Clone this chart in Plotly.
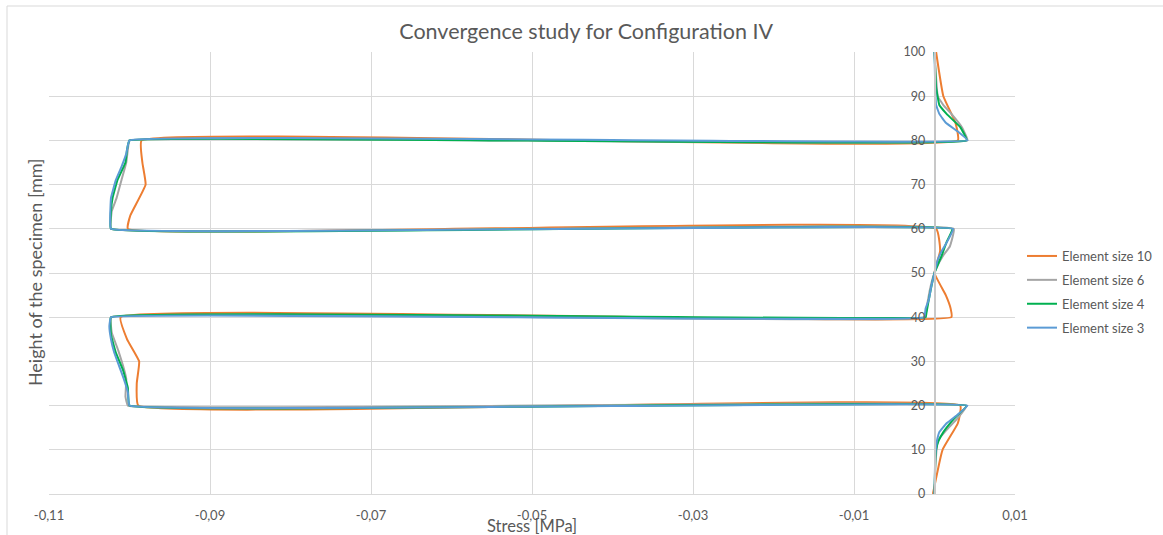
import plotly.graph_objects as go

# ---- data (height [mm] vs stress [MPa]) ----
h_es10 = [0, 10, 16, 20,
          20, 25, 30, 35, 40,
          40, 42, 45, 50, 55, 60,
          60, 63, 70, 75, 80,
          80, 84, 90, 100]
s_es10 = [-0.0002, 0.0010, 0.0029, 0.0032,
          -0.0989, -0.0991, -0.0988, -0.1003, -0.1011,
          0.0021, 0.0020, 0.0014, 0.0000, 0.0007, 0.0002,
          -0.1002, -0.0999, -0.0980, -0.0984, -0.0985,
          0.0029, 0.0026, 0.0011, 0.0002]

h_es6 = [0, 6, 12, 14.5, 17, 20,
         20, 22, 26, 29, 32.5, 36.5, 40,
         40, 43, 46, 49, 51, 54, 56, 60,
         60, 64, 67, 71, 75, 78, 80,
         80, 83, 86, 88, 90, 100]
s_es6 = [0.0000, 0.0001, 0.0004, 0.0015, 0.0028, 0.0040,
         -0.1002, -0.1005, -0.1004, -0.1008, -0.1014, -0.1022, -0.1023,
         -0.0012, -0.0009, -0.0006, -0.0002, 0.0002, 0.0011, 0.0019, 0.0024,
         -0.1023, -0.1022, -0.1016, -0.1010, -0.1004, -0.1002, -0.1000,
         0.0041, 0.0034, 0.0021, 0.0011, 0.0004, 0.0000]

h_es4 = [0, 8, 10, 12, 14, 17, 20,
         20, 24, 28, 32, 36, 40,
         40, 41, 45, 50, 54, 57, 60,
         60, 64, 67, 71, 75, 78, 80,
         80, 83, 86, 88, 92, 100]
s_es4 = [0.0000, 0.0001, 0.0002, 0.0005, 0.0011, 0.0024, 0.0040,
         -0.1000, -0.1002, -0.1008, -0.1017, -0.1023, -0.1023,
         -0.0011, -0.0010, -0.0006, 0.0000, 0.0009, 0.0015, 0.0022,
         -0.1023, -0.1023, -0.1021, -0.1015, -0.1005, -0.1003, -0.1000,
         0.0040, 0.0032, 0.0015, 0.0006, 0.0002, 0.0000]

h_es3 = [0, 9, 12, 14, 16, 18, 20,
         20, 23, 26, 29, 32, 35, 38, 40,
         40, 42, 44, 47, 50, 53, 55, 57.5, 60,
         60, 63, 67, 71, 74, 77, 80,
         80, 82, 84, 86, 88, 91, 100]
s_es3 = [0.0000, 0.0001, 0.0003, 0.0006, 0.0015, 0.0029, 0.0041,
         -0.1000, -0.1002, -0.1007, -0.1013, -0.1019, -0.1023, -0.1025, -0.1023,
         -0.0013, -0.0011, -0.0007, -0.0004, 0.0000, 0.0004, 0.0009, 0.0017, 0.0023,
         -0.1023, -0.1024, -0.1023, -0.1017, -0.1010, -0.1004, -0.1000,
         0.0041, 0.0029, 0.0014, 0.0006, 0.0002, 0.0001, 0.0000]

series_names = ["Element size 10", "Element size 6", "Element size 4", "Element size 3"]
series_h = [h_es10, h_es6, h_es4, h_es3]
series_s = [s_es10, s_es6, s_es4, s_es3]
series_colors = ["#ED7D31", "#A5A5A5", "#00B050", "#5B9BD5"]
series_smooth = [0.35, 0.25, 0.25, 0.25]

x_tickvals = [-0.11, -0.09, -0.07, -0.05, -0.03, -0.01, 0.01]
x_ticktext = ["-0,11", "-0,09", "-0,07", "-0,05", "-0,03", "-0,01", "0,01"]
y_tickvals = [0, 10, 20, 30, 40, 50, 60, 70, 80, 90, 100]

X_MIN, X_MAX = -0.11, 0.01

FONT = "Lato"
TXT = "#595959"

fig = go.Figure()
for i, (name, hh, ss, col, sm) in enumerate(zip(series_names, series_h, series_s,
                                                 series_colors, series_smooth)):
    fig.add_trace(go.Scatter(
        x=ss, y=hh, mode="lines", name=name,
        line=dict(color=col, width=2, shape="spline", smoothing=sm),
        legendgroup=f"g{i}",
    ))

yaxis_pos = (0 - X_MIN) / (X_MAX - X_MIN)

fig.update_layout(
    width=1163, height=535,
    margin=dict(l=49, r=148, t=52, b=41, autoexpand=False),
    paper_bgcolor="white", plot_bgcolor="white",
    font=dict(family=FONT, color=TXT, size=12),
    title=dict(text="Convergence study for Configuration IV", x=0.504, xanchor="center",
               xref="container", y=1 - 31 / 535, yanchor="middle", yref="container",
               font=dict(family=FONT, size=21.5, color=TXT)),
    xaxis=dict(range=[X_MIN, X_MAX], tickvals=x_tickvals, ticktext=x_ticktext,
               showgrid=True, gridcolor="#d9d9d9", gridwidth=1,
               zeroline=False, showline=True, linecolor="#d9d9d9", linewidth=1,
               ticks="", ticklabelstandoff=9,
               tickfont=dict(family=FONT, size=13, color=TXT)),
    yaxis=dict(range=[0, 100], tickvals=y_tickvals,
               showgrid=True, gridcolor="#d9d9d9", gridwidth=1,
               zeroline=False, showline=True, linecolor="#c8c8c8", linewidth=1.5,
               anchor="free", position=yaxis_pos, side="left",
               ticks="", ticklabelstandoff=6,
               tickfont=dict(family=FONT, size=12.5, color=TXT)),
    legend=dict(x=(1022 - 49) / 966, xanchor="left", y=(494 - 292) / 442, yanchor="middle",
                font=dict(family=FONT, size=13, color=TXT),
                tracegroupgap=4, bgcolor="rgba(0,0,0,0)"),
    showlegend=True,
    annotations=[
        dict(text="Height of the specimen [mm]", xref="paper", yref="paper",
             x=(35 - 49) / 966, y=0.502, xanchor="center", yanchor="middle",
             textangle=-90, showarrow=False, font=dict(family=FONT, size=18, color=TXT)),
        dict(text="Stress [MPa]", xref="paper", yref="paper",
             x=0.5, y=(494 - 526) / 442, xanchor="center", yanchor="middle",
             showarrow=False, font=dict(family=FONT, size=16.5, color=TXT)),
    ],
    shapes=[
        dict(type="rect", xref="paper", yref="paper",
             x0=(7 - 49) / 966, x1=(1175 - 49) / 966,
             y0=(494 - 560) / 442, y1=(494 - 6) / 442,
             line=dict(color="#d9d9d9", width=1), fillcolor="rgba(0,0,0,0)", layer="below"),
    ],
)

fig.write_html("out.html", config={"displayModeBar": False},
               post_script="document.body.style.margin='0';document.body.style.overflow='hidden';")
